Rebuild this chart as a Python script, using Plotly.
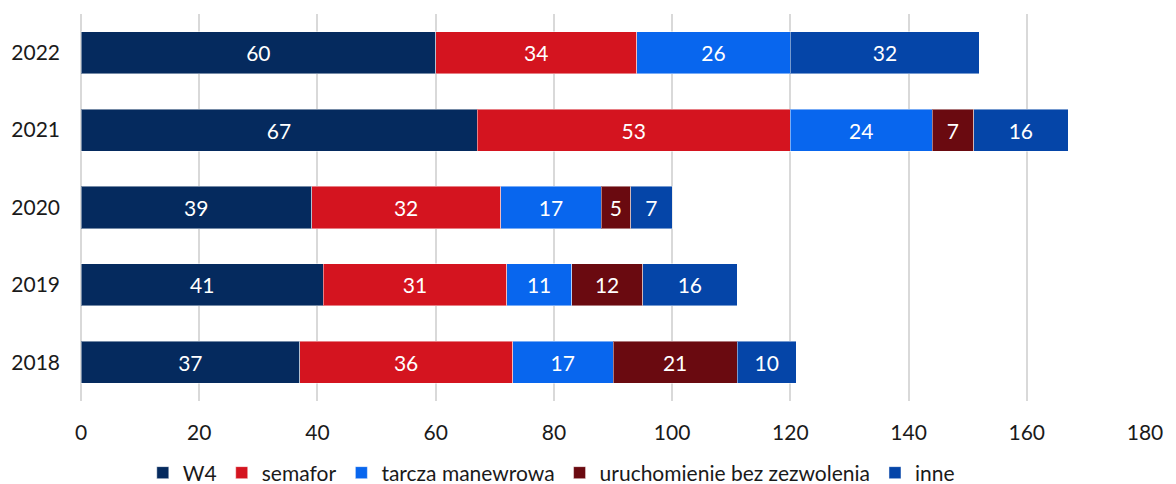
import plotly.graph_objects as go

years = ["2018", "2019", "2020", "2021", "2022"]
series_names = ["W4", "semafor", "tarcza manewrowa", "uruchomienie bez zezwolenia", "inne"]
w4 = [37, 41, 39, 67, 60]
semafor = [36, 31, 32, 53, 34]
tarcza = [17, 11, 17, 24, 26]
uruchomienie = [21, 12, 5, 7, 0]
inne = [10, 16, 7, 16, 32]
colors = ["#052A5E", "#D4141F", "#0866EE", "#6A0A10", "#0545A8"]
x_ticks = [0, 20, 40, 60, 80, 100, 120, 140, 160, 180]

values = [w4, semafor, tarcza, uruchomienie, inne]

fig = go.Figure()
for name, vals, col in zip(series_names, values, colors):
    fig.add_trace(go.Bar(
        y=years, x=[v if v else None for v in vals], name=name, orientation="h",
        marker=dict(color=col, line=dict(color="rgba(255,255,255,0.45)", width=1)),
        text=[str(v) if v else "" for v in vals],
        textposition="inside", insidetextanchor="middle", textangle=0,
        textfont=dict(color="white", size=21, family="Lato"),
        constraintext="none",
        hoverinfo="skip",
    ))

fig.update_layout(
    barmode="stack",
    bargap=0.455,
    width=1176, height=484,
    margin=dict(l=81, r=31, t=14, b=83, autoexpand=False),
    paper_bgcolor="white", plot_bgcolor="white",
    font=dict(family="Lato", size=21, color="#1A1A1A"),
    xaxis=dict(range=[0, 180], tickvals=x_ticks, showgrid=True, gridcolor="#D9D9D9",
               gridwidth=2, zeroline=True, zerolinecolor="#D9D9D9", zerolinewidth=2,
               ticks="", ticklabelstandoff=17, tickfont=dict(size=21, color="#1A1A1A"),
               fixedrange=True),
    yaxis=dict(categoryorder="array", categoryarray=years, ticks="", ticklabelstandoff=20,
               tickfont=dict(size=21, color="#1A1A1A"), showgrid=False),
    legend=dict(orientation="h", x=0.442, xanchor="center", y=-0.186, yanchor="middle",
                font=dict(size=21, color="#1A1A1A"), traceorder="normal",
                itemwidth=30, tracegroupgap=0),
    showlegend=True,
)

fig.write_html("out.html")
